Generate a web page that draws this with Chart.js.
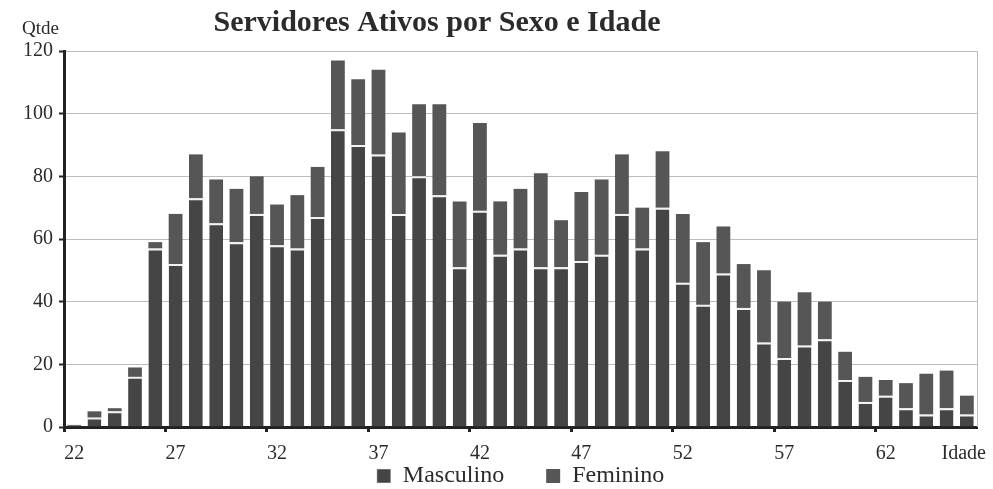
<!DOCTYPE html>
<html>
<head>
<meta charset="utf-8">
<script src="https://cdn.jsdelivr.net/npm/chart.js@4.4.1/dist/chart.umd.min.js"></script>
<style>
  html, body { margin: 0; padding: 0; background: #fff; }
  #wrap { width: 993px; height: 489px; }
</style>
</head>
<body>
<div id="wrap"><canvas id="chart"></canvas></div>
<script>
const chartTitle = 'Servidores Ativos por Sexo e Idade';
const ages = [22, 23, 24, 25, 26, 27, 28, 29, 30, 31, 32, 33, 34, 35, 36,
  37, 38, 39, 40, 41, 42, 43, 44, 45, 46, 47, 48, 49, 50, 51,
  52, 53, 54, 55, 56, 57, 58, 59, 60, 61, 62, 63, 64, 65, 66];
const masculino = [1, 3, 5, 16, 57, 52, 73, 65, 59, 68, 58, 57, 67, 95, 90,
  87, 68, 80, 74, 51, 69, 55, 57, 51, 51, 53, 55, 68, 57, 70,
  46, 39, 49, 38, 27, 22, 26, 28, 15, 8, 10, 6, 4, 6, 4];
const feminino = [0, 2, 1, 3, 2, 16, 14, 14, 17, 12, 13, 17, 16, 22, 21,
  27, 26, 23, 29, 21, 28, 17, 19, 30, 15, 22, 24, 19, 13, 18,
  22, 20, 15, 14, 23, 18, 17, 12, 9, 8, 5, 8, 13, 12, 6];
// ages that get a label on the x axis
const ageTicks = [22, 27, 32, 37, 42, 47, 52, 57, 62];
const yMax = 120;
const yStep = 20;

const serif = '"Liberation Serif", "Times New Roman", serif';
const ink = '#2b2b2b';

// title, axis captions and right edge of the plot
const extraText = {
  id: 'extraText',
  afterDraw(chart) {
    const { ctx, chartArea } = chart;
    ctx.save();
    ctx.strokeStyle = '#bdbdbd';
    ctx.lineWidth = 1;
    ctx.beginPath();
    ctx.moveTo(chartArea.right + 0.5, chartArea.top);
    ctx.lineTo(chartArea.right + 0.5, chartArea.bottom);
    ctx.stroke();

    ctx.fillStyle = ink;
    ctx.textBaseline = 'alphabetic';
    ctx.font = `bold 30px ${serif}`;
    ctx.textAlign = 'center';
    ctx.fillText(chartTitle, 437, 31);
    ctx.font = `19px ${serif}`;
    ctx.textAlign = 'left';
    ctx.fillText('Qtde', 22, 34);
    ctx.font = `20px ${serif}`;
    ctx.textAlign = 'right';
    ctx.fillText('Idade', 986, 459);
    ctx.restore();
  },
};

// legend entries, with some room after the first one
const legendLabels = (chart) => Chart.defaults.plugins.legend.labels.generateLabels(chart)
  .map((item, i) => ({ ...item, text: i === 0 ? `${item.text}\u00a0\u00a0\u00a0\u00a0\u00a0\u00a0\u00a0` : item.text }));

const chart = new Chart(document.getElementById('chart'), {
  type: 'bar',
  data: {
    labels: ages,
    datasets: [
      {
        label: 'Masculino',
        data: masculino,
        backgroundColor: '#454545',
        borderColor: '#f2f2f2',
        borderWidth: { top: 2, right: 0, bottom: 0, left: 0 },
        borderSkipped: false,
        barPercentage: 0.68,
        categoryPercentage: 1,
      },
      {
        label: 'Feminino',
        data: feminino,
        backgroundColor: '#565656',
        borderWidth: 0,
        barPercentage: 0.68,
        categoryPercentage: 1,
      },
    ],
  },
  options: {
    responsive: true,
    maintainAspectRatio: false,
    animation: false,
    layout: { padding: { top: 51, right: 16, bottom: -9, left: 0 } },
    plugins: {
      tooltip: { enabled: false },
      legend: {
        position: 'bottom',
        fullSize: false,
        labels: {
          color: ink,
          font: { family: serif, size: 24 },
          boxWidth: 14,
          boxHeight: 14,
          padding: 0,
          generateLabels: legendLabels,
        },
      },
    },
    scales: {
      x: {
        stacked: true,
        afterFit: (scale) => { scale.height = 37; },
        border: { display: true, color: '#222', width: 3 },
        grid: {
          display: true,
          drawOnChartArea: false,
          drawTicks: true,
          tickLength: 5,
          tickWidth: 3,
          tickColor: (ctx) => (ctx.index % 5 === 0 ? '#222' : 'rgba(0,0,0,0)'),
        },
        ticks: {
          autoSkip: false,
          maxRotation: 0,
          padding: 10,
          color: ink,
          font: { family: serif, size: 20 },
          callback: (value, index) => (ageTicks.includes(ages[index]) ? String(ages[index]) : ''),
        },
      },
      y: {
        stacked: true,
        min: 0,
        max: yMax,
        afterFit: (scale) => { scale.width = 64; },
        border: { display: true, color: '#222', width: 3 },
        grid: {
          color: '#bdbdbd',
          lineWidth: 1,
          tickColor: '#222',
          tickLength: 5,
          tickWidth: 2,
        },
        ticks: {
          stepSize: yStep,
          padding: 6,
          color: ink,
          font: { family: serif, size: 20 },
        },
      },
    },
  },
  plugins: [extraText],
});
</script>
</body>
</html>
